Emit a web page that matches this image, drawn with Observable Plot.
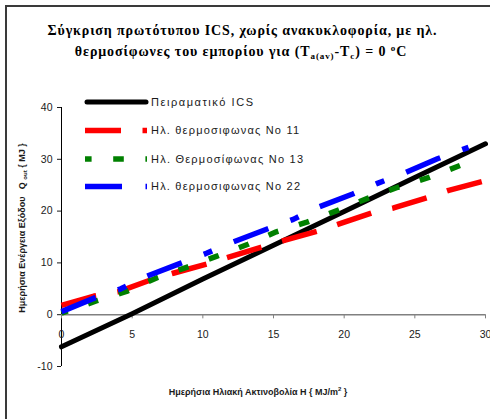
<!DOCTYPE html>
<html>
<head>
<meta charset="utf-8">
<script src="https://cdn.jsdelivr.net/npm/d3@7"></script>
<script src="https://cdn.jsdelivr.net/npm/@observablehq/plot@0.6"></script>
<style>
  html, body { margin: 0; padding: 0; background: white; }
  #chart { width: 490px; height: 419px; overflow: hidden; }
</style>
</head>
<body>
<div id="chart"></div>
<script>
// Axis ticks
const ticksX = [0, 5, 10, 15, 20, 25, 30];
const ticksY = [-10, 0, 10, 20, 30, 40];

// Series names
const seriesNames = [
  "Πειραματικό ICS",
  "Ηλ. θερμοσιφωνας Νο 11",
  "Ηλ. Θερμοσίφωνας Νο 13",
  "Ηλ. θερμοσιφωνας Νο 22"
];

// Daily solar radiation H (MJ/m²) and daily output energy Q_out (MJ)
const icsH = [0, 5, 10, 15, 20, 25, 30];
const icsQ = [-6.2, 0.2, 6.9, 13.4, 19.9, 26.5, 33.0];

const no11H = [0, 2.3, 4.0, 6.4, 7.9, 10.3, 11.7, 14.1, 15.7, 18.2, 19.6, 22.1, 23.5, 26.0, 27.4, 30.0];
const no11Q = [1.8, 3.6, 4.4, 6.8, 8.0, 9.8, 11.0, 13.0, 14.3, 16.2, 17.5, 19.8, 20.6, 22.7, 24.0, 25.9];

const no13H = [0, 2.5, 4.6, 6.8, 8.9, 11.0, 13.2, 15.2, 17.3, 19.5, 21.7, 23.8, 26.0, 28.2, 28.9];
const no13Q = [0.3, 2.7, 4.5, 7.2, 9.2, 11.3, 13.6, 16.0, 17.8, 20.1, 22.5, 24.6, 26.5, 28.8, 29.3];

const no22H = [0, 2.4, 4.2, 6.0, 8.4, 10.3, 12.1, 14.6, 16.4, 18.2, 20.6, 22.4, 24.2, 26.6, 28.8];
const no22Q = [0.6, 3.3, 5.0, 7.4, 9.9, 11.9, 14.0, 16.6, 18.4, 20.8, 23.3, 25.4, 27.3, 30.1, 32.3];

const toRows = (H, Q) => H.map((h, i) => ({h, q: Q[i]}));

// Line styles per series
const styles = [
  {stroke: "#000000", strokeWidth: 5, strokeLinecap: "round", dash: null, offset: 0},
  {stroke: "#FF0000", strokeWidth: 5.5, strokeLinecap: "butt", dash: "36,21.5", offset: 0},
  {stroke: "#008000", strokeWidth: 5.5, strokeLinecap: "butt", dash: "10.6,21.6", offset: 4},
  {stroke: "#0000FF", strokeWidth: 5.5, strokeLinecap: "butt", dash: "37,23.5,9,23.5", offset: 0}
];
const data = [toRows(icsH, icsQ), toRows(no11H, no11Q), toRows(no13H, no13Q), toRows(no22H, no22Q)];

const lineMark = (rows, s) => Plot.line(rows, {
  x: "h", y: "q",
  stroke: s.stroke, strokeWidth: s.strokeWidth,
  strokeLinecap: s.strokeLinecap, strokeLinejoin: "round",
  strokeDasharray: s.dash || undefined, strokeDashoffset: s.offset
});

const chart = Plot.plot({
  width: 490,
  height: 419,
  marginLeft: 61,
  marginRight: 5,
  marginTop: 107,
  marginBottom: 53,
  x: {domain: [0, 30], axis: null},
  y: {domain: [-10, 40], axis: null},
  style: {fontFamily: "'Liberation Sans', Arial, sans-serif", background: "white", color: "#1a1a1a"},
  marks: [
    Plot.axisY({ticks: ticksY, tickSize: 4, tickPadding: 5, fontSize: 10.5, label: null, tickFormat: d => String(d)}),
    Plot.ruleX([0], {y1: -10, y2: 40, stroke: "#000", strokeWidth: 1}),
    Plot.ruleX(ticksX, {x: d => d, y1: 0, y2: -0.8, stroke: "#808080", strokeWidth: 1}),
    Plot.ruleY([0], {stroke: "#808080", strokeWidth: 1.5}),
    Plot.text(ticksX, {x: d => d, y: 0, dy: 20, text: d => String(d), fontSize: 10.5, fill: "#1a1a1a"}),
    ...data.map((rows, i) => lineMark(rows, styles[i]))
  ]
});
document.getElementById("chart").appendChild(chart);

const svg = d3.select(chart);

// Outer frame (left and top edges)
svg.append("line").attr("x1", 6).attr("x2", 6).attr("y1", 5).attr("y2", 419)
  .attr("stroke", "#3a3a3a").attr("stroke-width", 2);
svg.append("line").attr("x1", 5).attr("x2", 490).attr("y1", 6).attr("y2", 6)
  .attr("stroke", "#3a3a3a").attr("stroke-width", 2);

// Title
const serif = "'Liberation Serif', 'Times New Roman', serif";
svg.append("text").attr("x", 242).attr("y", 35)
  .attr("text-anchor", "middle").attr("font-family", serif).attr("font-weight", "bold")
  .attr("font-size", 14).attr("fill", "#000")
  .attr("textLength", 389).attr("lengthAdjust", "spacing")
  .text("Σύγκριση πρωτότυπου ICS, χωρίς ανακυκλοφορία, με ηλ.");

const t2 = svg.append("text").attr("x", 241).attr("y", 56)
  .attr("text-anchor", "middle").attr("font-family", serif).attr("font-weight", "bold")
  .attr("font-size", 14).attr("fill", "#000").attr("letter-spacing", 0.9);
t2.append("tspan").text("θερμοσίφωνες του εμπορίου για (T");
t2.append("tspan").attr("font-size", 9).attr("dy", 3).text("a(av)");
t2.append("tspan").attr("dy", -3).text("-T");
t2.append("tspan").attr("font-size", 9).attr("dy", 3).text("c");
t2.append("tspan").attr("dy", -3).text(") = 0 ");
t2.append("tspan").attr("font-size", 9).attr("dy", -5).text("o");
t2.append("tspan").attr("dy", 5).text("C");

// Legend
const legendRows = [102, 130.5, 159, 186.5];
const legendWidths = [102, 148, 152, 149];
seriesNames.forEach((name, i) => {
  const s = styles[i];
  const y = legendRows[i];
  svg.append("line").attr("x1", i === 0 ? 87 : 85).attr("x2", i === 0 ? 146 : 147)
    .attr("y1", y).attr("y2", y)
    .attr("stroke", s.stroke).attr("stroke-width", s.strokeWidth)
    .attr("stroke-linecap", s.strokeLinecap)
    .attr("stroke-dasharray", s.dash)
    .attr("stroke-dashoffset", s.offset);
  svg.append("text").attr("x", 151).attr("y", y).attr("dy", "0.36em")
    .attr("text-anchor", "start")
    .attr("font-family", "'Liberation Sans', Arial, sans-serif").attr("font-size", 11)
    .attr("fill", "#1a1a1a")
    .attr("textLength", legendWidths[i]).attr("lengthAdjust", "spacing")
    .text(name);
});

// Axis titles
const sans = "'Liberation Sans', Arial, sans-serif";
const xt = svg.append("text").attr("x", 258).attr("y", 395)
  .attr("text-anchor", "middle").attr("font-family", sans).attr("font-weight", "bold")
  .attr("font-size", 9).attr("fill", "#1a1a1a");
xt.append("tspan").text("Ημερήσια Ηλιακή Ακτινοβολία Η { MJ/m");
xt.append("tspan").attr("font-size", 6).attr("dy", -4).text("2");
xt.append("tspan").attr("dy", 4).text(" }");

const yt = svg.append("text").attr("transform", "translate(25,228) rotate(-90)")
  .attr("text-anchor", "middle").attr("font-family", sans).attr("font-weight", "bold")
  .attr("font-size", 9).attr("fill", "#1a1a1a").style("white-space", "pre");
yt.append("tspan").text("Ημερήσια Ενέργεια Εξόδου   Q ");
yt.append("tspan").attr("font-size", 6).attr("dy", 2).text("out");
yt.append("tspan").attr("dy", -2).text(" { MJ }");
</script>
</body>
</html>
